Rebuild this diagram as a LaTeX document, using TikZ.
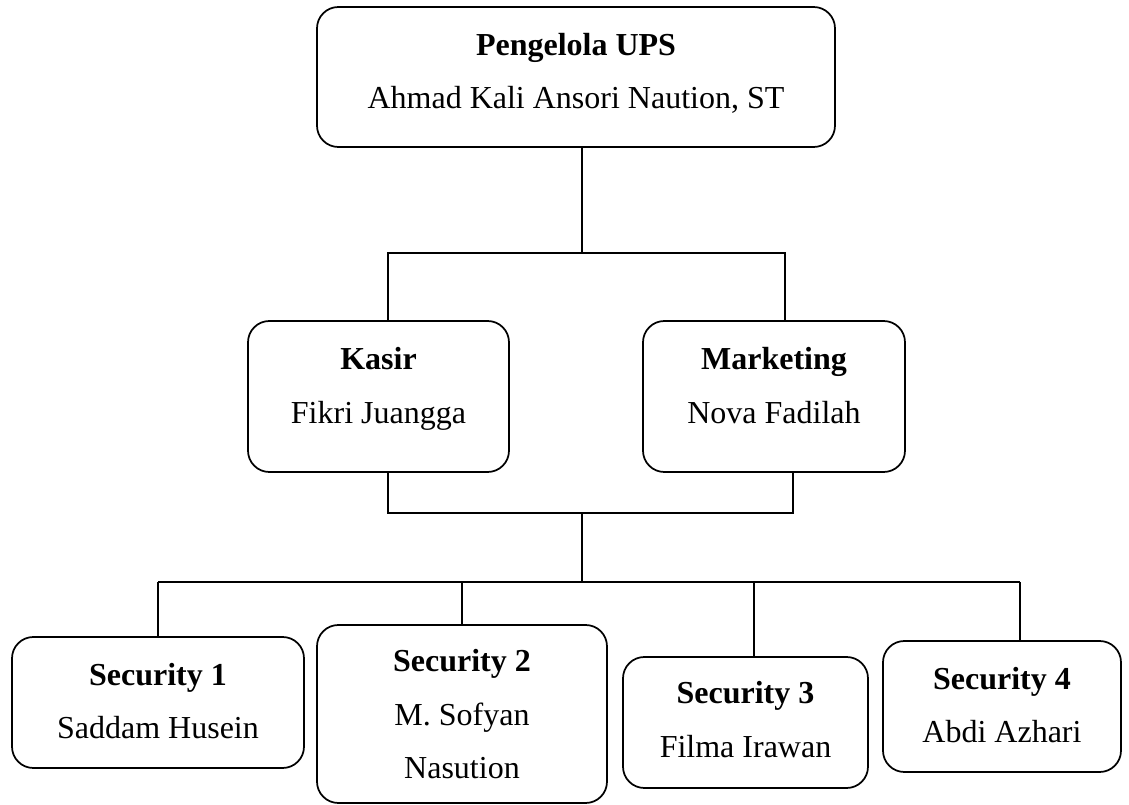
\documentclass[tikz,border=0pt]{standalone}
\usepackage{fontspec}
\setmainfont{Liberation Serif}
\newcommand\fhgt{\rule{0pt}{17pt}}
\newcommand\ldep[1]{\rule[-#1pt]{0pt}{#1pt}}
\begin{document}
\begin{tikzpicture}[x=0.75pt,y=-0.75pt,
  orgbox/.style={draw, line width=1.3pt, rounded corners=16pt, inner sep=0pt,
    align=center, font=\fontsize{24}{40}\selectfont},
  conn/.style={line width=1.2pt}]
\useasboundingbox (0,0) rectangle (1129,805);
\node[orgbox, minimum width=388.5pt, minimum height=105pt] (top) at (576,77)
  {\fhgt\textbf{Pengelola UPS}\\Ahmad Kali Ansori Naution, ST\ldep{9}};
\node[orgbox, minimum width=195.75pt, minimum height=113.25pt] (kasir) at (378.5,396.5)
  {\fhgt\textbf{Kasir}\\Fikri Juangga\ldep{17}};
\node[orgbox, minimum width=196.5pt, minimum height=113.25pt] (mkt) at (774,396.5)
  {\fhgt\textbf{Marketing}\\Nova Fadilah\ldep{17}};
\node[orgbox, minimum width=219pt, minimum height=98.25pt] (s1) at (158,702.5)
  {\fhgt\textbf{Security 1}\\Saddam Husein\ldep{3}};
\node[orgbox, minimum width=217.5pt, minimum height=133.5pt] (s2) at (462,714)
  {\fhgt\textbf{Security 2}\\M. Sofyan\\Nasution\ldep{0}};
\node[orgbox, minimum width=183.75pt, minimum height=98.25pt] (s3) at (745.5,722.5)
  {\fhgt\textbf{Security 3}\\Filma Irawan\ldep{5}};
\node[orgbox, minimum width=178.5pt, minimum height=98.25pt] (s4) at (1002,706.5)
  {\fhgt\textbf{Security 4}\\Abdi Azhari\ldep{3}};
\coordinate (j1) at (582,253);
\coordinate (ka) at (388,253);
\coordinate (ma) at (785,253);
\coordinate (kb) at (388,513);
\coordinate (mb) at (793,513);
\coordinate (j2) at (582,513);
\coordinate (j3) at (582,582);
\coordinate (l1) at (158,582);
\coordinate (l2) at (462,582);
\coordinate (l3) at (754,582);
\coordinate (l4) at (1020,582);
\draw[conn] (top.south -| j1) -- (j1);
\draw[conn] (ka |- kasir.north) -- (ka) -- (ma) -- (ma |- mkt.north);
\draw[conn] (kb |- kasir.south) -- (kb) -- (mb) -- (mb |- mkt.south);
\draw[conn] (j2) -- (j3);
\draw[conn] (l1) -- (l4);
\draw[conn] (l1) -- (l1 |- s1.north);
\draw[conn] (l2) -- (l2 |- s2.north);
\draw[conn] (l3) -- (l3 |- s3.north);
\draw[conn] (l4) -- (l4 |- s4.north);
\end{tikzpicture}
\end{document}
